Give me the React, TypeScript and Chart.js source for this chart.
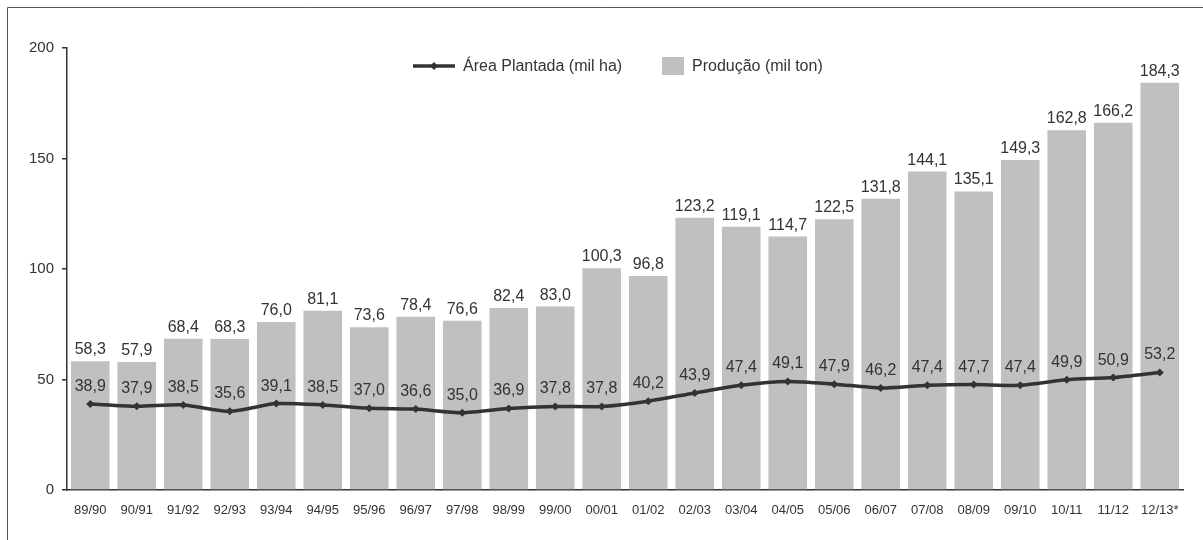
import React, { useEffect, useRef } from "react";
import { Chart, registerables } from "chart.js";

Chart.register(...registerables);

const categories = ["89/90","90/91","91/92","92/93","93/94","94/95","95/96","96/97","97/98","98/99","99/00","00/01","01/02","02/03","03/04","04/05","05/06","06/07","07/08","08/09","09/10","10/11","11/12","12/13*"];
const producao = [58.3,57.9,68.4,68.3,76.0,81.1,73.6,78.4,76.6,82.4,83.0,100.3,96.8,123.2,119.1,114.7,122.5,131.8,144.1,135.1,149.3,162.8,166.2,184.3];
const area = [38.9,37.9,38.5,35.6,39.1,38.5,37.0,36.6,35.0,36.9,37.8,37.8,40.2,43.9,47.4,49.1,47.9,46.2,47.4,47.7,47.4,49.9,50.9,53.2];
const yTicks = [0, 50, 100, 150, 200];
const lineLabel = "Área Plantada (mil ha)";
const barLabel = "Produção (mil ton)";

const FONT = '"Liberation Sans", Arial, sans-serif';
const DARK = "#333333";
const BAR = "#c0c0c0";

const fmt = (v: number) => v.toFixed(1).replace(".", ",");

const decor = {
  id: "decor",
  beforeDraw(chart: any) {
    const ctx = chart.ctx;
    ctx.save();
    ctx.fillStyle = "#ffffff";
    ctx.fillRect(0, 0, chart.width, chart.height);
    ctx.strokeStyle = "#555555";
    ctx.lineWidth = 1;
    ctx.beginPath();
    ctx.moveTo(7.5, chart.height);
    ctx.lineTo(7.5, 7.5);
    ctx.lineTo(chart.width, 7.5);
    ctx.stroke();
    ctx.restore();
  },
  afterDatasetsDraw(chart: any) {
    const ctx = chart.ctx;
    ctx.save();
    ctx.fillStyle = DARK;
    ctx.textAlign = "center";
    ctx.textBaseline = "alphabetic";
    ctx.font = `16px ${FONT}`;
    chart.data.datasets.forEach((ds: any, di: number) => {
      const meta = chart.getDatasetMeta(di);
      meta.data.forEach((el: any, i: number) => {
        const v = ds.data[i] as number;
        const off = ds.type === "bar" ? 7 : 13;
        ctx.fillText(fmt(v), el.x, el.y - off);
      });
    });
    // legend
    const ly = 66;
    ctx.strokeStyle = DARK;
    ctx.lineWidth = 3.5;
    ctx.beginPath();
    ctx.moveTo(413, ly);
    ctx.lineTo(455, ly);
    ctx.stroke();
    ctx.beginPath();
    ctx.moveTo(434, ly - 4);
    ctx.lineTo(438, ly);
    ctx.lineTo(434, ly + 4);
    ctx.lineTo(430, ly);
    ctx.closePath();
    ctx.fillStyle = DARK;
    ctx.fill();
    ctx.font = `16px ${FONT}`;
    ctx.textAlign = "left";
    ctx.textBaseline = "middle";
    ctx.fillText(lineLabel, 463, ly + 1);
    ctx.fillStyle = BAR;
    ctx.fillRect(662, 57, 22, 18);
    ctx.fillStyle = DARK;
    ctx.fillText(barLabel, 692, ly + 1);
    ctx.restore();
  },
};

export default function App() {
  const ref = useRef<HTMLCanvasElement>(null);
  useEffect(() => {
    if (!ref.current) return;
    const chart = new Chart(ref.current, {
      type: "bar",
      data: {
        labels: categories,
        datasets: [
          {
            type: "line",
            label: lineLabel,
            data: area,
            borderColor: DARK,
            backgroundColor: DARK,
            borderWidth: 3.5,
            pointStyle: "rectRot",
            pointRadius: 4,
            pointBackgroundColor: DARK,
            pointBorderColor: DARK,
            pointBorderWidth: 0,
            tension: 0.25,
            order: 0,
          } as any,
          {
            type: "bar",
            label: barLabel,
            data: producao,
            backgroundColor: BAR,
            borderWidth: 0,
            barPercentage: 0.83,
            categoryPercentage: 1,
            order: 1,
          } as any,
        ],
      },
      options: {
        responsive: false,
        animation: false,
        layout: { padding: { top: 48, right: 20, left: 0, bottom: 0 } },
        plugins: { legend: { display: false }, tooltip: { enabled: false } },
        scales: {
          x: {
            offset: true,
            grid: { display: true, drawOnChartArea: false, drawTicks: false },
            border: { display: true, color: DARK, width: 1.5 },
            ticks: { color: DARK, font: { family: FONT, size: 13 }, padding: 13, maxRotation: 0, autoSkip: false },
            afterFit: (s: any) => { s.height = 50; },
          },
          y: {
            min: 0,
            max: 200,
            afterBuildTicks: (s: any) => { s.ticks = yTicks.map((v) => ({ value: v })); },
            grid: { display: true, drawOnChartArea: false, drawTicks: true, tickLength: 5, color: DARK, lineWidth: 1.5 },
            border: { display: true, color: DARK, width: 1.5 },
            ticks: { color: DARK, font: { family: FONT, size: 15 }, padding: 8 },
            afterFit: (s: any) => { s.width = 67; },
          },
        },
      },
      plugins: [decor],
    });
    return () => chart.destroy();
  }, []);
  return (
    <div style={{ position: "absolute", left: 0, top: 0, width: 1203, height: 540 }}>
      <canvas ref={ref} width={1203} height={540} />
    </div>
  );
}
